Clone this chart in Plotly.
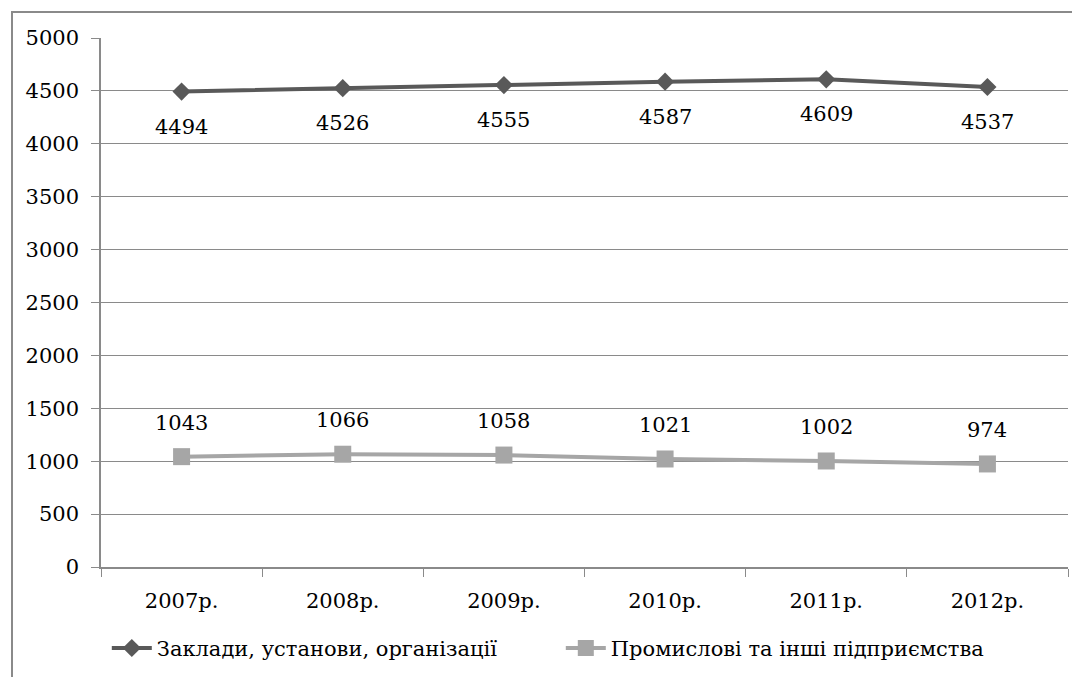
import plotly.graph_objects as go

categories = ["2007р.", "2008р.", "2009р.", "2010р.", "2011р.", "2012р."]
series1_name = "Заклади, установи, організації"
series1 = [4494, 4526, 4555, 4587, 4609, 4537]
series2_name = "Промислові та інші підприємства"
series2 = [1043, 1066, 1058, 1021, 1002, 974]
y_ticks = [0, 500, 1000, 1500, 2000, 2500, 3000, 3500, 4000, 4500, 5000]

FONT = "DejaVu Serif"
C1 = "#595959"
C2 = "#a6a6a6"
GRID = "#8a8a8a"

W, H = 1072, 669

fig = go.Figure()
fig.add_trace(go.Scatter(
    x=categories, y=series1, name=series1_name, mode="lines+markers",
    line=dict(color=C1, width=4),
    marker=dict(symbol="diamond", size=14, color=C1),
))
fig.add_trace(go.Scatter(
    x=categories, y=series2, name=series2_name, mode="lines+markers",
    line=dict(color=C2, width=4),
    marker=dict(symbol="square", size=17, color=C2),
))

annotations = []
for c, v in zip(categories, series1):
    annotations.append(dict(x=c, y=v, text=str(v), showarrow=False, yshift=-35,
                            font=dict(family=FONT, size=21, color="#000")))
for c, v in zip(categories, series2):
    annotations.append(dict(x=c, y=v, text=str(v), showarrow=False, yshift=34,
                            font=dict(family=FONT, size=21, color="#000")))

fig.update_layout(
    width=W, height=H,
    margin=dict(l=93, r=12, t=30, b=110, autoexpand=False),
    paper_bgcolor="white", plot_bgcolor="white",
    font=dict(family=FONT, size=21, color="#000"),
    showlegend=True,
    legend=dict(orientation="h", x=0.006, xanchor="left", y=-0.115, yanchor="top",
                font=dict(family=FONT, size=21, color="#000"),
                itemwidth=40, tracegroupgap=0,
                entrywidth=399, entrywidthmode="pixels"),
    annotations=annotations,
    shapes=[dict(type="rect", xref="paper", yref="paper",
                 x0=-89 / 967, x1=1.2, y0=-0.5, y1=1 + 26 / 529,
                 line=dict(color="#8a8a8a", width=2), fillcolor="rgba(0,0,0,0)",
                 layer="below")],
)
fig.update_xaxes(
    type="category", range=[-0.5, 5.5], automargin=False,
    showline=True, linecolor=GRID, linewidth=1.5,
    ticks="outside", tickson="boundaries", ticklen=8, tickcolor=GRID,
    showgrid=False, tickfont=dict(family=FONT, size=21),
    ticklabelstandoff=14,
)
fig.update_yaxes(
    range=[0, 5000], tickvals=y_ticks, automargin=False,
    showline=True, linecolor=GRID, linewidth=1.5,
    ticks="outside", ticklen=8, tickcolor=GRID,
    showgrid=True, gridcolor=GRID, gridwidth=1.2,
    zeroline=False, tickfont=dict(family=FONT, size=21),
    ticklabelstandoff=8,
)

fig.write_html("out.html")
